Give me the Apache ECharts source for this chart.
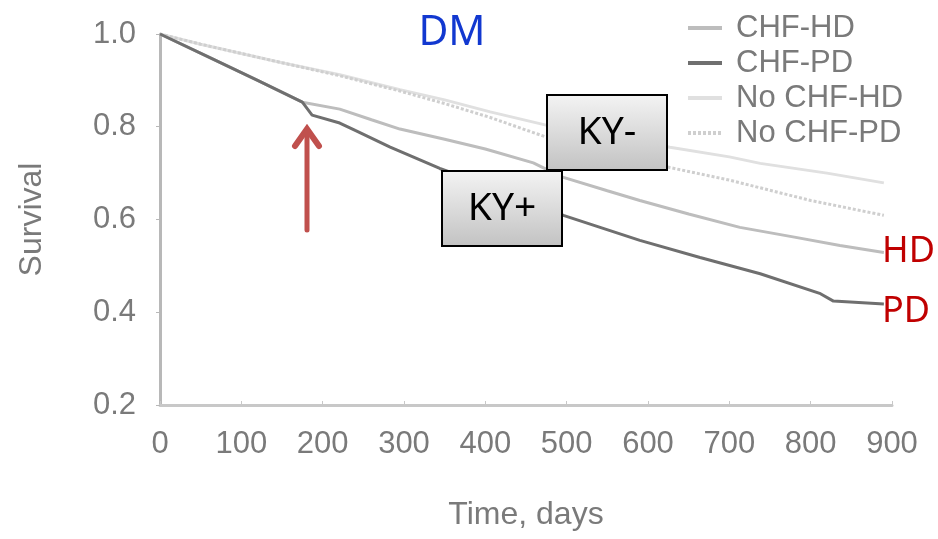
<!DOCTYPE html>
<html><head><meta charset="utf-8">
<script src="https://cdn.jsdelivr.net/npm/echarts@6/dist/echarts.min.js"></script>
<style>html,body{margin:0;padding:0;background:#fff}#c{width:938px;height:539px}</style>
</head><body><div id="c"></div>
<script>
// ---- data ----
const seriesNames = ['CHF-HD', 'CHF-PD', 'No CHF-HD', 'No CHF-PD'];

const chfHdDays = [0, 60, 120, 175, 221, 260, 295, 350, 400, 459, 494, 550, 590, 650, 713, 780, 836, 890];
const chfHdSurv = [1.0, 0.95, 0.90, 0.853, 0.838, 0.815, 0.795, 0.773, 0.752, 0.722, 0.692, 0.662, 0.641, 0.612, 0.583, 0.562, 0.544, 0.529];

const chfPdDays = [0, 60, 120, 175, 187, 221, 240, 283, 344, 400, 450, 496, 590, 664, 738, 812, 828, 890];
const chfPdSurv = [1.0, 0.95, 0.90, 0.853, 0.825, 0.808, 0.792, 0.756, 0.71, 0.675, 0.645, 0.609, 0.555, 0.518, 0.483, 0.44, 0.424, 0.418];

const noChfHdDays = [0, 50, 100, 150, 221, 295, 350, 406, 476, 550, 627, 700, 738, 820, 890];
const noChfHdSurv = [1.0, 0.978, 0.958, 0.938, 0.912, 0.88, 0.858, 0.832, 0.803, 0.78, 0.756, 0.735, 0.721, 0.70, 0.679];

const noChfPdDays = [0, 50, 100, 150, 221, 295, 350, 406, 476, 550, 627, 700, 800, 890];
const noChfPdSurv = [1.0, 0.978, 0.958, 0.938, 0.91, 0.877, 0.85, 0.82, 0.777, 0.745, 0.712, 0.685, 0.641, 0.609];

const xTickValues = [0, 100, 200, 300, 400, 500, 600, 700, 800, 900];
const yTickValues = [0.2, 0.4, 0.6, 0.8, 1.0];

const annotationTitle = 'DM';
const boxLabels = ['KY-', 'KY+'];
const endLabels = ['HD', 'PD'];

// ---- chart ----
function pairs(days, surv) { return days.map((d, i) => [d, surv[i]]); }

const lineColors = ['#bdbdbd', '#6f6f6f', '#e0e0e0', '#cfcfcf'];
const lineTypes = ['solid', 'solid', 'solid', [3, 2]];
const dataSets = [pairs(chfHdDays, chfHdSurv), pairs(chfPdDays, chfPdSurv), pairs(noChfHdDays, noChfHdSurv), pairs(noChfPdDays, noChfPdSurv)];

const grayText = '#7a7a7a';
const axisFont = "'Liberation Sans', Arial, sans-serif";

function boxGradient() {
  return new echarts.graphic.LinearGradient(0, 0, 0, 1, [
    { offset: 0, color: '#f4f4f4' }, { offset: 1, color: '#c2c2c2' }
  ]);
}

const chart = echarts.init(document.getElementById('c'), null, { renderer: 'canvas' });
chart.setOption({
  animation: false,
  backgroundColor: '#ffffff',
  grid: { left: 160, right: 46, top: 34, bottom: 134 },
  legend: {
    orient: 'vertical', left: 681, top: 7,
    itemWidth: 34, itemHeight: 14, itemGap: 3,
    data: seriesNames,
    itemStyle: { opacity: 0 },
    lineStyle: { width: 4 },
    textStyle: { fontSize: 31, color: grayText, fontFamily: axisFont, lineHeight: 32, padding: [0, 0, 0, 9] }
  },
  xAxis: {
    type: 'value', min: xTickValues[0], max: xTickValues[xTickValues.length - 1], interval: 100,
    name: 'Time, days', nameLocation: 'middle', nameGap: 94,
    nameTextStyle: { fontSize: 32, color: grayText, fontFamily: axisFont },
    axisLine: { show: true, lineStyle: { color: '#c8c8c8', width: 3 } },
    axisTick: { show: true, inside: true, length: 4, lineStyle: { color: '#c8c8c8' } },
    axisLabel: { fontSize: 31, color: grayText, fontFamily: axisFont, margin: 24 },
    splitLine: { show: false }
  },
  yAxis: {
    type: 'value', min: yTickValues[0], max: yTickValues[yTickValues.length - 1], interval: 0.2,
    name: 'Survival', nameLocation: 'middle', nameGap: 112, nameRotate: 90,
    nameTextStyle: { fontSize: 32, color: grayText, fontFamily: axisFont },
    axisLine: { show: true, lineStyle: { color: '#b8b8b8', width: 3 } },
    axisTick: { show: true, inside: false, length: 4, lineStyle: { color: '#b8b8b8' } },
    axisLabel: { fontSize: 31, color: grayText, fontFamily: axisFont, margin: 24, formatter: v => v.toFixed(1) },
    splitLine: { show: false }
  },
  series: seriesNames.map((n, i) => ({
    name: n, type: 'line', data: dataSets[i], symbol: 'none', showSymbol: false, smooth: false,
    z: [3, 5, 2, 4][i],
    lineStyle: { color: lineColors[i], width: 3, type: lineTypes[i] },
    itemStyle: { color: lineColors[i] }
  })),
  graphic: [
    { type: 'text', z: 50, x: 452, y: 33, style: { text: annotationTitle, fill: '#1238d0', font: "41px 'Noto Sans', 'Open Sans', sans-serif", align: 'center', verticalAlign: 'middle' } },
    { type: 'rect', z: 50, shape: { x: 547, y: 95, width: 120, height: 75 }, style: { fill: boxGradient(), stroke: '#000', lineWidth: 2 } },
    { type: 'text', z: 51, x: 607, y: 133, style: { text: boxLabels[0], fill: '#000', font: "39px 'Noto Sans', 'Open Sans', sans-serif", align: 'center', verticalAlign: 'middle' } },
    { type: 'rect', z: 50, shape: { x: 442, y: 171, width: 120, height: 75 }, style: { fill: boxGradient(), stroke: '#000', lineWidth: 2 } },
    { type: 'text', z: 51, x: 502, y: 209, style: { text: boxLabels[1], fill: '#000', font: "39px 'Noto Sans', 'Open Sans', sans-serif", align: 'center', verticalAlign: 'middle' } },
    { type: 'text', z: 50, x: 882, y: 252, style: { text: endLabels[0], fill: '#c00000', font: "36px 'Noto Sans', 'Open Sans', sans-serif", align: 'left', verticalAlign: 'middle' } },
    { type: 'text', z: 50, x: 882, y: 312, style: { text: endLabels[1], fill: '#c00000', font: "36px 'Noto Sans', 'Open Sans', sans-serif", align: 'left', verticalAlign: 'middle' } },
    { type: 'line', z: 50, shape: { x1: 307, y1: 230, x2: 307, y2: 134 }, style: { stroke: '#c0504d', lineWidth: 5, lineCap: 'round' } },
    { type: 'polyline', z: 50, shape: { points: [[295, 146], [307, 129], [319, 146]] }, style: { stroke: '#c0504d', lineWidth: 6, lineCap: 'round', lineJoin: 'miter', fill: null } },
    { type: 'polygon', z: 50, shape: { points: [[307, 125], [313, 136], [301, 136]] }, style: { fill: '#c0504d' } }
  ]
});
</script>
</body></html>
